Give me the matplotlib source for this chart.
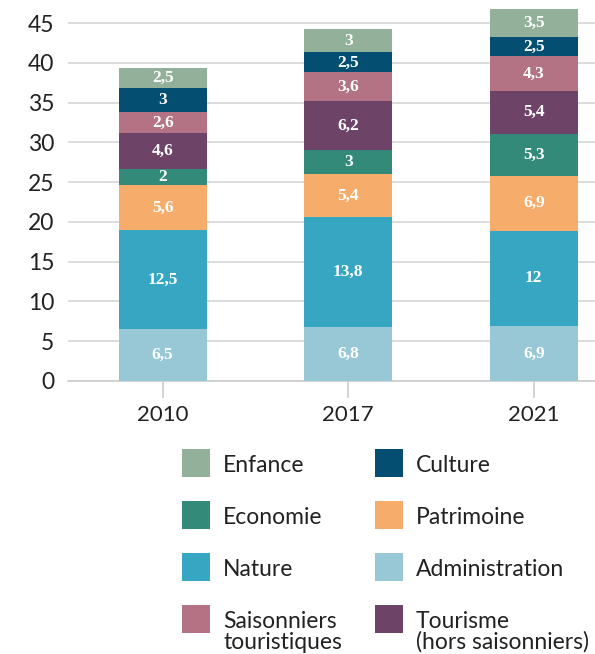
import matplotlib
matplotlib.use("Agg")
import matplotlib.pyplot as plt
from matplotlib.patches import Rectangle
import numpy as np

years = ["2010", "2017", "2021"]
# stacking order bottom -> top
categories = ["Administration", "Nature", "Patrimoine", "Economie",
              "Tourisme\n(hors saisonniers)", "Saisonniers\ntouristiques", "Culture", "Enfance"]
administration = [6.5, 6.8, 6.9]
nature = [12.5, 13.8, 12.0]
patrimoine = [5.6, 5.4, 6.9]
economie = [2.0, 3.0, 5.3]
tourisme = [4.6, 6.2, 5.4]
saisonniers = [2.6, 3.6, 4.3]
culture = [3.0, 2.5, 2.5]
enfance = [2.5, 3.0, 3.5]
series = [administration, nature, patrimoine, economie, tourisme, saisonniers, culture, enfance]
colors = ["#98C8D6", "#37A6C2", "#F6AC6A", "#338A78", "#6D4468", "#B37384", "#044E72", "#93B09A"]
yticks = [0, 5, 10, 15, 20, 25, 30, 35, 40, 45]

W, H = 595, 654
fig = plt.figure(figsize=(W / 100, H / 100), dpi=100)
ax = fig.add_axes([68 / W, 1 - 381 / H, (W - 68) / W, 381 / H])

fam = ["Lato", "DejaVu Sans"]
x = np.arange(len(years))
bottom = np.zeros(len(years))
for vals, c in zip(series, colors):
    ax.bar(x, vals, width=0.475, bottom=bottom, color=c, zorder=3, linewidth=0)
    for xi, b, v in zip(x, bottom, vals):
        lab = f"{v:g}".replace(".", ",")
        ax.text(xi, b + v / 2, lab, ha="center", va="center", color="white",
                fontsize=12.5, fontweight="bold", family=["Liberation Serif"], zorder=4)
    bottom += np.array(vals)

ax.set_xlim(-0.51, 2.33)
ax.set_ylim(0, 47.9)
ax.set_yticks(yticks)
ax.set_yticklabels([str(t) for t in yticks], family=fam, fontsize=16.5, color="#222222")
ax.set_xticks(x)
ax.set_xticklabels(years, family=fam, fontsize=16, color="#222222")
ax.tick_params(axis="y", length=0, pad=10)
ax.tick_params(axis="x", length=12, color="#cccccc", width=1.2, pad=5)
ax.grid(axis="y", color="#d9d9d9", linewidth=1.3, zorder=0)
for s in ["top", "right", "left"]:
    ax.spines[s].set_visible(False)
ax.spines["bottom"].set_color("#cccccc")
ax.spines["bottom"].set_linewidth(1.2)

# legend (manual layout, two columns)
legend_items = [
    ("Enfance", "#93B09A", 0, 0), ("Culture", "#044E72", 1, 0),
    ("Economie", "#338A78", 0, 1), ("Patrimoine", "#F6AC6A", 1, 1),
    ("Nature", "#37A6C2", 0, 2), ("Administration", "#98C8D6", 1, 2),
    ("Saisonniers\ntouristiques", "#B37384", 0, 3), ("Tourisme\n(hors saisonniers)", "#6D4468", 1, 3),
]
col_x = [182, 375]
row_y = [449, 501, 553, 605]
for label, c, ci, ri in legend_items:
    x0, y0 = col_x[ci], row_y[ri]
    fig.add_artist(Rectangle((x0 / W, 1 - (y0 + 28) / H), 28 / W, 28 / H,
                             transform=fig.transFigure, color=c, linewidth=0))
    lines = label.split("\n")
    for k, line in enumerate(lines):
        fig.text((x0 + 41) / W, 1 - (y0 + 23 + 21 * k) / H, line, ha="left", va="baseline",
                 family=fam, fontsize=16.5, color="#222222")

fig.savefig("out.png", dpi=100)
